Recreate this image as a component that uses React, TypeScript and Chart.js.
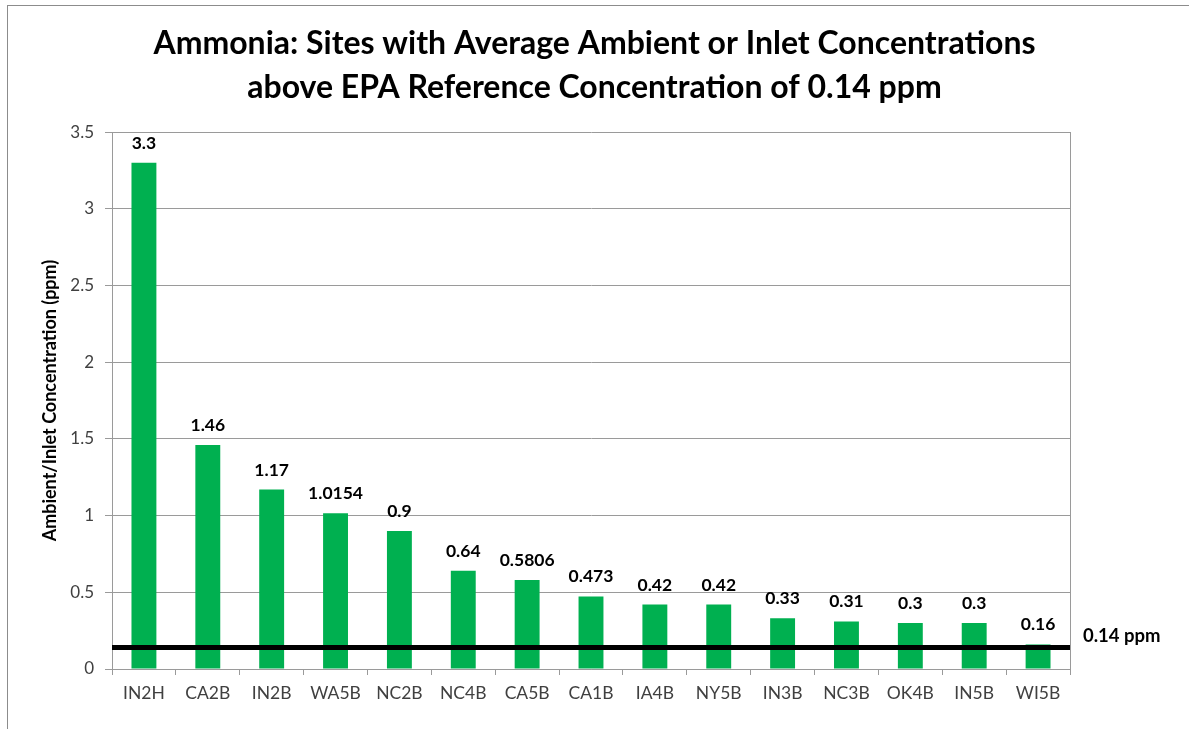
import React, { useEffect, useRef } from "react";
import { Chart, registerables } from "chart.js";

Chart.register(...registerables);

const titleLines = [
  "Ammonia: Sites with Average Ambient or Inlet Concentrations",
  "above EPA Reference Concentration of 0.14 ppm",
];
const yAxisTitle = "Ambient/Inlet Concentration (ppm)";
const categories = ["IN2H", "CA2B", "IN2B", "WA5B", "NC2B", "NC4B", "CA5B", "CA1B", "IA4B", "NY5B", "IN3B", "NC3B", "OK4B", "IN5B", "WI5B"];
const concentrations = [3.3, 1.46, 1.17, 1.0154, 0.9, 0.64, 0.5806, 0.473, 0.42, 0.42, 0.33, 0.31, 0.3, 0.3, 0.16];
const referenceConcentration = 0.14;
const referenceLabel = "0.14 ppm";
const yTickValues = [0, 0.5, 1, 1.5, 2, 2.5, 3, 3.5];

const FONT = "Lato";
const GRID = "#9a9a9a";
const BAR = "#00B050";
const TICK_TEXT = "#404040";

const overlayPlugin = {
  id: "overlay",
  afterDatasetsDraw(chart: any) {
    const { ctx, chartArea, scales } = chart;
    ctx.save();

    // data labels
    const meta = chart.getDatasetMeta(0);
    ctx.font = `bold 17.5px ${FONT}`;
    ctx.fillStyle = "#000";
    ctx.textAlign = "center";
    ctx.textBaseline = "alphabetic";
    meta.data.forEach((bar: any, i: number) => {
      ctx.fillText(String(concentrations[i]), bar.x, bar.y - 14);
    });

    // reference line
    const ry = scales.y.getPixelForValue(referenceConcentration);
    ctx.strokeStyle = "#000";
    ctx.lineWidth = 5;
    ctx.beginPath();
    ctx.moveTo(chartArea.left, ry);
    ctx.lineTo(chartArea.right, ry);
    ctx.stroke();

    ctx.font = `bold 18.5px ${FONT}`;
    ctx.textAlign = "left";
    ctx.textBaseline = "middle";
    ctx.fillText(referenceLabel, chartArea.right + 13, ry - 11);
    ctx.restore();
  },
};

export default function App() {
  const canvasRef = useRef<HTMLCanvasElement | null>(null);

  useEffect(() => {
    if (!canvasRef.current) return;
    const chart = new Chart(canvasRef.current, {
      type: "bar",
      data: {
        labels: categories,
        datasets: [
          {
            data: concentrations,
            backgroundColor: BAR,
            borderWidth: 0,
            categoryPercentage: 1,
            barPercentage: 0.39,
          },
        ],
      },
      options: {
        animation: false,
        responsive: false,
        maintainAspectRatio: false,
        layout: { padding: { left: 0, right: 0, top: 0, bottom: 0 } },
        plugins: {
          legend: { display: false },
          tooltip: { enabled: false },
          title: {
            display: true,
            text: titleLines,
            color: "#000",
            font: { family: FONT, size: 32, weight: "bold", lineHeight: 1.36 },
            padding: { top: 22, bottom: 23 },
          },
        },
        scales: {
          x: {
            offset: true,
            grid: {
              offset: true,
              drawOnChartArea: false,
              drawTicks: true,
              tickLength: 6,
              color: GRID,
            },
            border: { display: true, color: GRID, width: 1 },
            ticks: {
              color: TICK_TEXT,
              font: { family: FONT, size: 17.5 },
              padding: 8,
              maxRotation: 0,
              autoSkip: false,
            },
            afterFit: (s: any) => {
              s.height = 60;
            },
          },
          y: {
            min: 0,
            max: 3.5,
            afterBuildTicks: (s: any) => {
              s.ticks = yTickValues.map((v) => ({ value: v }));
            },
            grid: { color: GRID, tickLength: 7, drawTicks: true },
            border: { display: true, color: GRID, width: 1 },
            ticks: {
              color: TICK_TEXT,
              font: { family: FONT, size: 17 },
              padding: 11,
              callback: (v: any) => String(v),
            },
            title: {
              display: true,
              text: yAxisTitle,
              color: "#000",
              font: { family: FONT, size: 18, weight: "bold" },
              padding: { top: 39, bottom: 0 },
            },
            afterFit: (s: any) => {
              s.width = 112;
            },
          },
          y2: {
            position: "right",
            min: 0,
            max: 3.5,
            grid: { display: false, drawTicks: false },
            border: { display: true, color: GRID, width: 1 },
            ticks: { display: false },
            afterFit: (s: any) => {
              s.width = 119;
            },
          },
        },
      },
      plugins: [overlayPlugin],
    });
    return () => chart.destroy();
  }, []);

  return (
    <div style={{ position: "fixed", left: 0, top: 0, width: 1189, height: 729, background: "#fff" }}>
      <div
        style={{
          position: "absolute",
          left: 7,
          top: 5,
          right: -10,
          bottom: -10,
          borderLeft: "1px solid #8c8c8c",
          borderTop: "1px solid #8c8c8c",
        }}
      />
      <canvas ref={canvasRef} width={1189} height={729} style={{ position: "absolute", left: 0, top: 0 }} />
    </div>
  );
}
